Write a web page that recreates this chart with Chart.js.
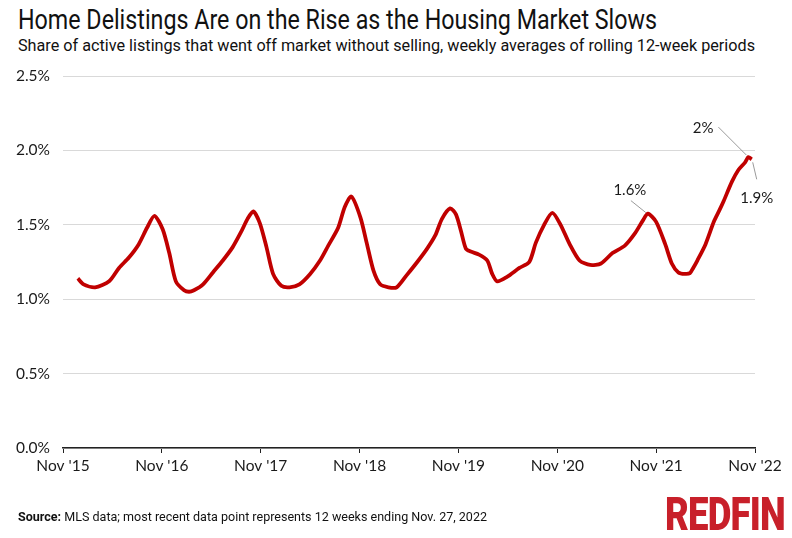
<!DOCTYPE html>
<html lang="en">
<head>
<meta charset="UTF-8">
<title>Home Delistings Are on the Rise as the Housing Market Slows</title>
<script src="https://cdn.jsdelivr.net/npm/chart.js"></script>
<style>
  html, body { margin: 0; padding: 0; background: #fff; }
  body { width: 792px; height: 538px; position: relative; overflow: hidden; font-family: Lato, 'Noto Sans', sans-serif; color: #1a1a1a; }
  canvas { position: absolute; left: 0; top: 0; }
  .fit { position: absolute; white-space: nowrap; transform-origin: 0 0; }
  #title { left: 18px; top: 4px; font-family: Roboto, sans-serif; font-size: 27px; color: #111; }
  #subtitle { left: 18px; top: 35px; font-family: Roboto, sans-serif; font-size: 17px; color: #111; }
  #source { left: 18px; top: 509px; font-family: Roboto, sans-serif; font-size: 13px; color: #111; }
  #logo { left: 665px; top: 487px; font-family: Roboto, sans-serif; font-weight: 900; font-size: 46px; color: #c8202a; letter-spacing: -1px; }
</style>
</head>
<body>
  <div id="title" class="fit" data-w="639">Home Delistings Are on the Rise as the Housing Market Slows</div>
  <div id="subtitle" class="fit" data-w="737">Share of active listings that went off market without selling, weekly averages of rolling 12-week periods</div>
  <canvas id="delistChart" width="792" height="538"></canvas>
  <div id="source" class="fit" data-w="469"><b>Source:</b> MLS data; most recent data point represents 12 weeks ending Nov. 27, 2022</div>
  <div id="logo" class="fit" data-w="120">REDFIN</div>

<script>
// months after Nov 2015
const monthIndex = [
  1.8, 2.5, 3.9, 5.6, 6.8, 8.0, 9.2, 10.2, 11.1, 12.1, 12.9, 13.7, 14.7, 15.3, 15.9,
  17.0, 18.2, 19.4, 20.6, 21.6, 22.4, 23.1, 23.9, 24.7, 25.5, 26.5, 27.5, 28.7,
  30.0, 31.2, 32.2, 33.4, 34.2, 35.0, 36.1, 36.9, 37.7, 38.5, 39.5, 40.5,
  41.7, 43.0, 44.2, 45.2, 46.0, 47.0, 47.7, 48.3, 48.9, 49.5, 50.5, 51.5, 52.1, 52.7,
  53.9, 55.4, 56.6, 57.4, 58.4, 59.4, 60.4, 61.5, 62.7, 64.0, 65.3,
  66.7, 68.2, 69.4, 70.4, 71.0, 72.0, 73.1, 73.9, 74.7, 75.5, 76.1, 76.5, 77.0,
  78.0, 79.0, 79.7, 80.2, 81.2, 82.0, 82.8, 83.2, 83.6
];
// share of active listings delisted, %
const delistShare = [
  1.14, 1.10, 1.08, 1.12, 1.21, 1.28, 1.37, 1.48, 1.56, 1.47, 1.31, 1.12, 1.06, 1.05, 1.06,
  1.10, 1.18, 1.26, 1.35, 1.45, 1.54, 1.59, 1.51, 1.35, 1.17, 1.09, 1.08, 1.10,
  1.17, 1.26, 1.36, 1.48, 1.62, 1.69, 1.55, 1.37, 1.19, 1.10, 1.08, 1.08,
  1.16, 1.25, 1.34, 1.43, 1.54, 1.61, 1.57, 1.46, 1.34, 1.32, 1.30, 1.26, 1.17, 1.12,
  1.15, 1.21, 1.25, 1.38, 1.50, 1.58, 1.50, 1.37, 1.26, 1.23, 1.24,
  1.31, 1.36, 1.44, 1.53, 1.575, 1.52, 1.37, 1.24, 1.18, 1.17, 1.175, 1.21, 1.26,
  1.37, 1.52, 1.60, 1.66, 1.79, 1.87, 1.92, 1.955, 1.94
];
const yearLabels = ["Nov '15", "Nov '16", "Nov '17", "Nov '18", "Nov '19", "Nov '20", "Nov '21", "Nov '22"];
const yTicks = [0, 0.5, 1.0, 1.5, 2.0, 2.5];

const calloutMonths = [71.0, 83.2, 83.6];
const calloutLabels = ['1.6%', '2%', '1.9%'];

// squeeze the header/footer text to the widths seen in the reference
document.querySelectorAll('.fit').forEach(el => {
  const w = el.getBoundingClientRect().width;
  el.style.transform = 'scaleX(' + (parseFloat(el.dataset.w) / w) + ')';
});

// leader line start/end and text position, relative to the marked point
const calloutStyle = [
  { from: [-17, -13], to: [-2, -1], text: [-18, -23], align: 'center' },
  { from: [-30, -30], to: [-2, -2], text: [-35, -29], align: 'right' },
  { from: [1, 3], to: [5, 20], text: [5, 39], align: 'center' }
];

const callouts = {
  id: 'callouts',
  afterDatasetsDraw(chart) {
    const { ctx, scales: { x, y } } = chart;
    ctx.save();
    calloutMonths.forEach((m, i) => {
      const k = monthIndex.indexOf(m);
      const px = x.getPixelForValue(monthIndex[k]);
      const py = y.getPixelForValue(delistShare[k]);
      const s = calloutStyle[i];
      ctx.strokeStyle = '#9a9a9a';
      ctx.lineWidth = 1;
      ctx.beginPath();
      ctx.moveTo(px + s.from[0], py + s.from[1]);
      ctx.lineTo(px + s.to[0], py + s.to[1]);
      ctx.stroke();
      ctx.fillStyle = '#1a1a1a';
      ctx.font = '15px Lato';
      ctx.textAlign = s.align;
      ctx.textBaseline = 'middle';
      ctx.fillText(calloutLabels[i], px + s.text[0], py + s.text[1]);
    });
    ctx.restore();
  }
};

new Chart(document.getElementById('delistChart'), {
  type: 'line',
  data: {
    datasets: [{
      data: monthIndex.map((m, i) => ({ x: m, y: delistShare[i] })),
      borderColor: '#c00000',
      borderWidth: 3.8,
      pointRadius: 0,
      tension: 0.25,
      fill: false
    }]
  },
  options: {
    responsive: false,
    animation: false,
    layout: { padding: { left: 0, right: 37, top: 76, bottom: 62 } },
    scales: {
      x: {
        type: 'linear',
        min: 0,
        max: 84,
        afterFit: s => { s.height = 28; },
        afterBuildTicks: s => { s.ticks = yearLabels.map((_, i) => ({ value: i * 12 })); },
        grid: { drawOnChartArea: false, drawTicks: true, tickLength: 5, color: '#222', lineWidth: 1 },
        border: { display: true, color: '#222', width: 1.5 },
        ticks: {
          padding: 4,
          maxRotation: 0,
          autoSkip: false,
          color: '#1a1a1a',
          font: { family: 'Lato', size: 15.5 },
          callback: v => yearLabels[Math.round(v / 12)]
        }
      },
      y: {
        min: 0,
        max: 2.5,
        afterFit: s => { s.width = 63; },
        afterBuildTicks: s => { s.ticks = yTicks.map(v => ({ value: v })); },
        grid: { color: '#d9d9d9', lineWidth: 1, drawTicks: false },
        border: { display: false },
        ticks: {
          padding: 13,
          color: '#1a1a1a',
          font: { family: 'Lato', size: 15.5 },
          callback: v => v.toFixed(1) + '%'
        }
      }
    },
    plugins: {
      legend: { display: false },
      tooltip: { enabled: false }
    }
  },
  plugins: [callouts]
});
</script>
</body>
</html>
